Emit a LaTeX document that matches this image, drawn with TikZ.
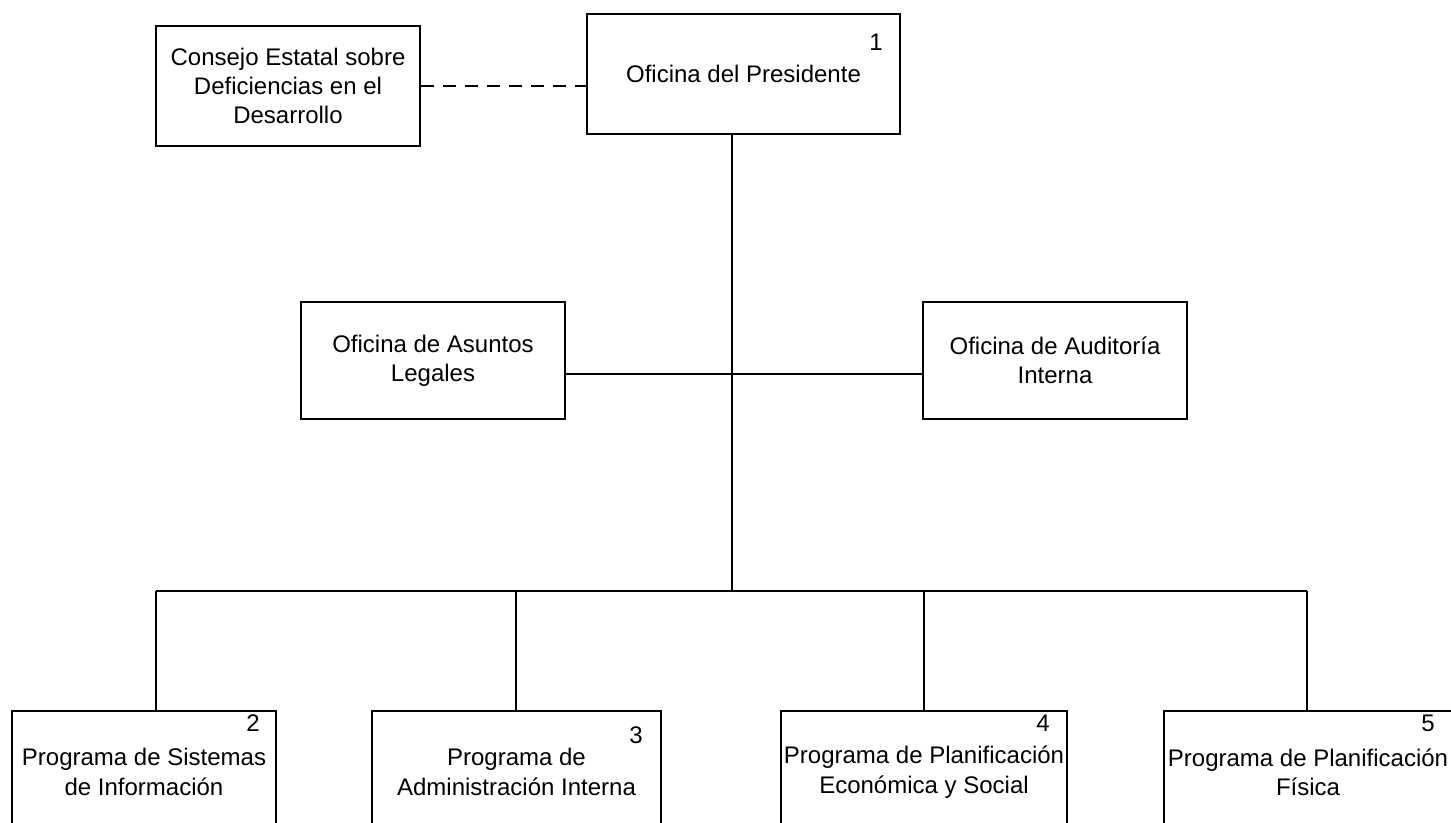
\documentclass[tikz,border=0pt]{standalone}
\usepackage{fontspec}
\setmainfont{Liberation Sans}
\begin{document}
\begin{tikzpicture}[x=0.75pt,y=-0.75pt,
  box/.style={draw=black, line width=1.5pt, rectangle, align=center, inner sep=0pt,
    font=\fontsize{18}{22}\selectfont},
  num/.style={inner sep=0pt, font=\fontsize{18}{21}\selectfont},
  conn/.style={draw=black, line width=1.5pt},
  dashconn/.style={draw=black, line width=1.5pt, dash pattern=on 9.75pt off 6.75pt}]
\useasboundingbox (0,0) rectangle (1451,823);
\clip (0,0) rectangle (1451,823);
% boxes
\node[box, minimum width=264*0.75pt, minimum height=120*0.75pt] (cons) at (288,86) {Consejo Estatal sobre\\Deficiencias en el\\Desarrollo};
\node[box, minimum width=313*0.75pt, minimum height=120*0.75pt] (pres) at (743.5,74) {Oficina del Presidente};
\node[box, minimum width=264*0.75pt, minimum height=117*0.75pt] (leg) at (433,360.5) {Oficina de Asuntos\\Legales};
\node[box, minimum width=264*0.75pt, minimum height=117*0.75pt] (aud) at (1055,360.5) {Oficina de Auditoría\\Interna};
\node[box, minimum width=264*0.75pt, minimum height=122*0.75pt] (p2) at (144,772) {Programa de Sistemas\\de Información};
\node[box, minimum width=289*0.75pt, minimum height=122*0.75pt] (p3) at (516.5,772) {Programa de\\Administración Interna};
\node[box, minimum width=286*0.75pt, minimum height=122*0.75pt] (p4) at (924,772) {Programa de Planificación\\Económica y Social};
\node[box, minimum width=288*0.75pt, minimum height=122*0.75pt] (p5) at (1308,772) {Programa de Planificación\\Física};
% numbers
\node[num] (n1) at (876,42) {1};
\node[num] (n2) at (253,723) {2};
\node[num] (n3) at (636,735) {3};
\node[num] (n4) at (1043,723) {4};
\node[num] (n5) at (1428,723) {5};
% connector coordinates
\coordinate (top) at (732,134);
\coordinate (mid) at (732,374);
\coordinate (bus) at (732,591);
\coordinate (b2) at (156,591);
\coordinate (b3) at (516,591);
\coordinate (b4) at (924,591);
\coordinate (b5) at (1307,591);
% connectors
\path[dashconn] (cons.east) -- (pres.west |- cons.east);
\path[conn] (top) -- (bus);
\path[conn] (leg.east |- mid) -- (aud.west |- mid);
\path[conn] (b2) -- (b5);
\path[conn] (b2) -- (b2 |- p2.north);
\path[conn] (b3) -- (b3 |- p3.north);
\path[conn] (b4) -- (b4 |- p4.north);
\path[conn] (b5) -- (b5 |- p5.north);
\end{tikzpicture}
\end{document}
